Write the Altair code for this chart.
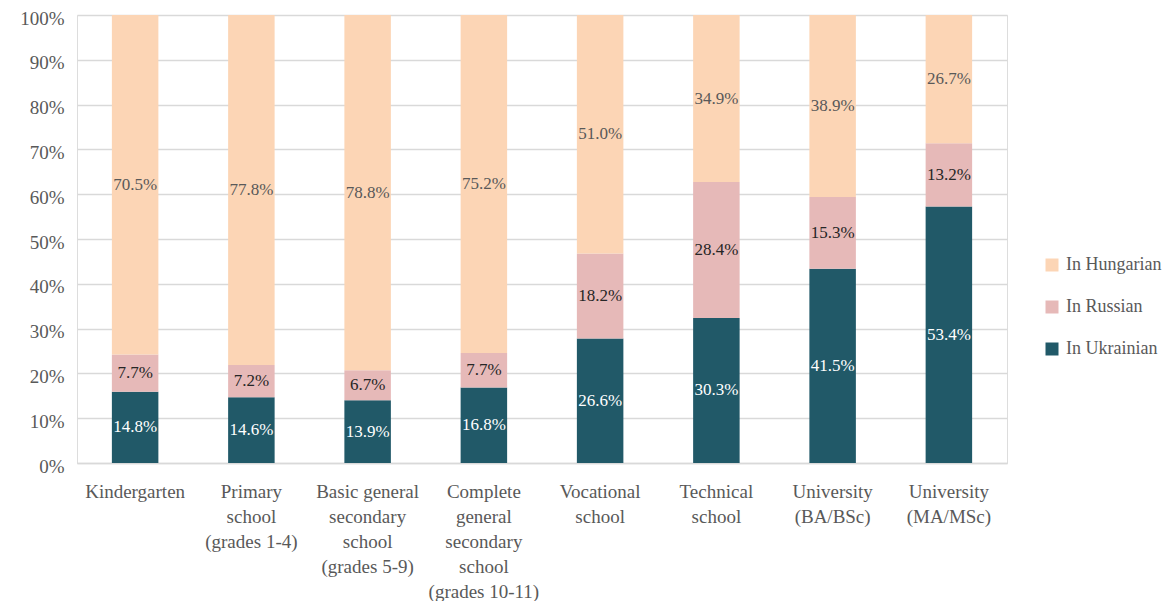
import altair as alt
import pandas as pd

categories = [
    "Kindergarten",
    "Primary|school|(grades 1-4)",
    "Basic general|secondary|school|(grades 5-9)",
    "Complete|general|secondary|school|(grades 10-11)",
    "Vocational|school",
    "Technical|school",
    "University|(BA/BSc)",
    "University|(MA/MSc)",
]
series = ["In Hungarian", "In Russian", "In Ukrainian"]
ukrainian = [14.8, 14.6, 13.9, 16.8, 26.6, 30.3, 41.5, 53.4]
russian = [7.7, 7.2, 6.7, 7.7, 18.2, 28.4, 15.3, 13.2]
hungarian = [70.5, 77.8, 78.8, 75.2, 51.0, 34.9, 38.9, 26.7]
bar_colors = ["#FCD5B5", "#E6B9B8", "#215968"]
label_colors = ["#595959", "#262626", "#FFFFFF"]
y_ticks = [0, 0.1, 0.2, 0.3, 0.4, 0.5, 0.6, 0.7, 0.8, 0.9, 1.0]

FONT = "Liberation Serif"

rows = []
for i, c in enumerate(categories):
    for s, vals, order in [("In Ukrainian", ukrainian, 0), ("In Russian", russian, 1), ("In Hungarian", hungarian, 2)]:
        rows.append({"category": c, "series": s, "value": vals[i], "order": order})
df = pd.DataFrame(rows)

base = alt.Chart(df).transform_stack(
    stack="value",
    groupby=["category"],
    as_=["y0", "y1"],
    offset="normalize",
    sort=[alt.SortField("order", order="ascending")],
).transform_calculate(
    mid="(datum.y0 + datum.y1) / 2",
    label="format(datum.value, '.1f') + '%'",
)

x = alt.X(
    "category:N",
    sort=categories,
    title=None,
    scale=alt.Scale(paddingInner=0.6, paddingOuter=0.3),
    axis=alt.Axis(
        labelExpr="split(datum.label, '|')",
        labelAngle=0,
        labelFont=FONT,
        labelFontSize=19,
        labelColor="#595959",
        labelLineHeight=25,
        labelPadding=19,
        ticks=False,
        domainColor="#D9D9D9",
        domainWidth=1.5,
        labelAlign="center",
        labelBaseline="top",
    ),
)

bars = base.mark_bar().encode(
    x=x,
    y=alt.Y(
        "y0:Q",
        title=None,
        scale=alt.Scale(domain=[0, 1], nice=False),
        axis=alt.Axis(
            values=y_ticks,
            format=".0%",
            labelFont=FONT,
            labelFontSize=19,
            labelColor="#595959",
            labelPadding=13,
            labelOffset=3,
            ticks=False,
            domain=False,
            gridColor="#D9D9D9",
            gridWidth=1.5,
        ),
    ),
    y2="y1:Q",
    color=alt.Color(
        "series:N",
        scale=alt.Scale(domain=series, range=bar_colors),
        legend=alt.Legend(
            title=None,
            orient="none",
            legendX=966,
            legendY=241,
            symbolType="square",
            symbolSize=169,
            symbolStrokeWidth=0,
            labelFont=FONT,
            labelFontSize=18,
            labelColor="#595959",
            rowPadding=24,
            labelOffset=5,
            padding=0,
        ),
    ),
)

texts = base.mark_text(font=FONT, fontSize=17, baseline="middle").encode(
    x=x,
    y=alt.Y("mid:Q"),
    text="label:N",
    color=alt.Color("series:N", scale=alt.Scale(domain=series, range=label_colors), legend=None),
)

chart = (
    alt.layer(bars, texts)
    .resolve_scale(color="independent")
    .properties(
        width=930,
        height=448,
        autosize=alt.AutoSizeParams(type="none"),
        padding={"left": 69, "top": 7, "right": 161, "bottom": 138},
    )
    .configure_view(stroke=None)
    .configure(background="white")
)

chart.save("out.html", embed_options={"renderer": "svg", "actions": False})
